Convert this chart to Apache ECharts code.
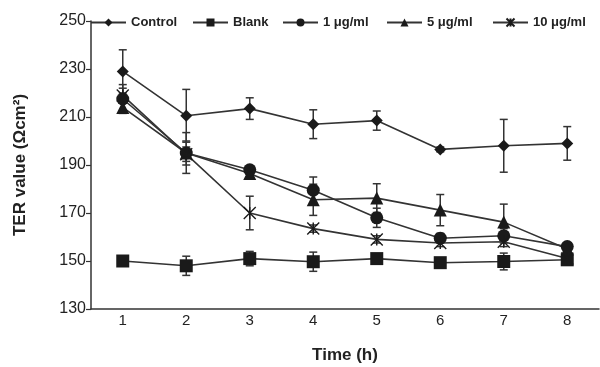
<!DOCTYPE html>
<html><head><meta charset="utf-8">
<script src="https://cdn.jsdelivr.net/npm/echarts@6/dist/echarts.min.js"></script>
<style>html,body{margin:0;padding:0;background:#fff}#c{width:600px;height:367px}</style>
</head><body><div id="c"></div>
<script>
const categories = ['1','2','3','4','5','6','7','8'];
const yTicks = [130,150,170,190,210,230,250];
const seriesNames = ['Control','Blank','1 μg/ml','5 μg/ml','10 μg/ml'];
const control = [229, 210.5, 213.5, 207, 208.5, 196.5, 198, 199];
const controlErr = [9, 11, 4.5, 6, 4, 1, 11, 7];
const blank = [150, 148, 151, 149.7, 151, 149.3, 149.8, 150.5];
const blankErr = [1, 4, 3, 4, 1, 1, 3.5, 1];
const c1 = [217.5, 195, 188, 179.5, 168, 159.5, 160.5, 156];
const c1Err = [6, 5, 1.5, 5.5, 4, 2, 3, 1];
const c5 = [214, 195, 186.5, 175.5, 176.2, 171.2, 166.2, 155];
const c5Err = [2, 8.5, 1.5, 6.5, 6, 6.5, 7.5, 1];
const c10 = [219, 194.5, 170, 163.5, 159, 157.5, 158, 151];
const c10Err = [3, 3, 7, 1.5, 1.5, 1.5, 2, 1];

const values = [control, blank, c1, c5, c10];
const errs = [controlErr, blankErr, c1Err, c5Err, c10Err];
const symbols = ['diamond','rect','circle','triangle','path://M0,0 L10,10 M10,0 L0,10 M5,0 L5,10'];
const sizes = [12, 13, 13, 13, 12];
const legendLeft = [90, 192, 282, 386, 492];
const ink = '#1a1a1a';
const lineCol = '#333';

const chart = echarts.init(document.getElementById('c'), null, {renderer:'canvas'});
const series = [];
values.forEach((v, k) => {
  const isStar = k === 4;
  series.push({
    name: seriesNames[k], type: 'line', data: v,
    symbol: symbols[k], symbolSize: sizes[k], z: 3,
    lineStyle: {color: lineCol, width: 1.6},
    itemStyle: isStar ? {color: 'rgba(0,0,0,0)', borderColor: ink, borderWidth: 1.4} : {color: ink, borderColor: ink, borderWidth: 0},
    emphasis: {disabled: true}, animation: false
  });
  series.push({
    type: 'custom', z: 2, animation: false, silent: true,
    data: v.map((y, i) => [i, y - errs[k][i], y + errs[k][i]]),
    renderItem: function (params, api) {
      const i = api.value(0);
      const lo = api.coord([i, api.value(1)]);
      const hi = api.coord([i, api.value(2)]);
      const w = 4;
      const st = {stroke: '#333', lineWidth: 1.5};
      return {type: 'group', children: [
        {type: 'line', shape: {x1: lo[0], y1: lo[1], x2: hi[0], y2: hi[1]}, style: st},
        {type: 'line', shape: {x1: lo[0]-w, y1: lo[1], x2: lo[0]+w, y2: lo[1]}, style: st},
        {type: 'line', shape: {x1: hi[0]-w, y1: hi[1], x2: hi[0]+w, y2: hi[1]}, style: st}
      ]};
    }
  });
});

const legends = seriesNames.map((n, k) => ({
  data: [n], left: legendLeft[k], top: 16, itemWidth: 35, itemHeight: 10, padding: 0,
  selectedMode: false,
  textStyle: {fontFamily: 'Liberation Sans', fontWeight: 'bold', fontSize: 13, color: '#222'}
}));

chart.setOption({
  animation: false,
  backgroundColor: '#fff',
  textStyle: {fontFamily: 'Liberation Sans, Arial, sans-serif'},
  legend: legends,
  grid: {left: 91, right: 1, top: 21, bottom: 58, outerBoundsMode: 'none', containLabel: false},
  xAxis: {
    type: 'category', data: categories, boundaryGap: true,
    name: 'Time (h)', nameLocation: 'middle', nameGap: 38,
    nameTextStyle: {fontFamily: 'Liberation Sans', fontWeight: 'bold', fontSize: 17, color: '#222'},
    axisLine: {lineStyle: {color: '#333', width: 1.5}},
    axisTick: {inside: true, length: 4, lineStyle: {color: '#333', width: 1.2}},
    axisLabel: {fontFamily: 'Liberation Sans', fontSize: 15, color: '#222', margin: 4},
    splitLine: {show: false}
  },
  yAxis: {
    type: 'value', min: yTicks[0], max: yTicks[yTicks.length-1], interval: 20,
    name: 'TER value (Ωcm²)', nameLocation: 'middle', nameGap: 62, nameRotate: 90,
    nameTextStyle: {fontFamily: 'Liberation Sans', fontWeight: 'bold', fontSize: 17, color: '#222'},
    axisLine: {show: true, lineStyle: {color: '#333', width: 1.5}},
    axisTick: {show: true, inside: false, length: 5, lineStyle: {color: '#333', width: 1.2}},
    axisLabel: {fontFamily: 'Liberation Sans', fontSize: 16, color: '#222', margin: 5},
    splitLine: {show: false}
  },
  series: series
});
</script></body></html>
